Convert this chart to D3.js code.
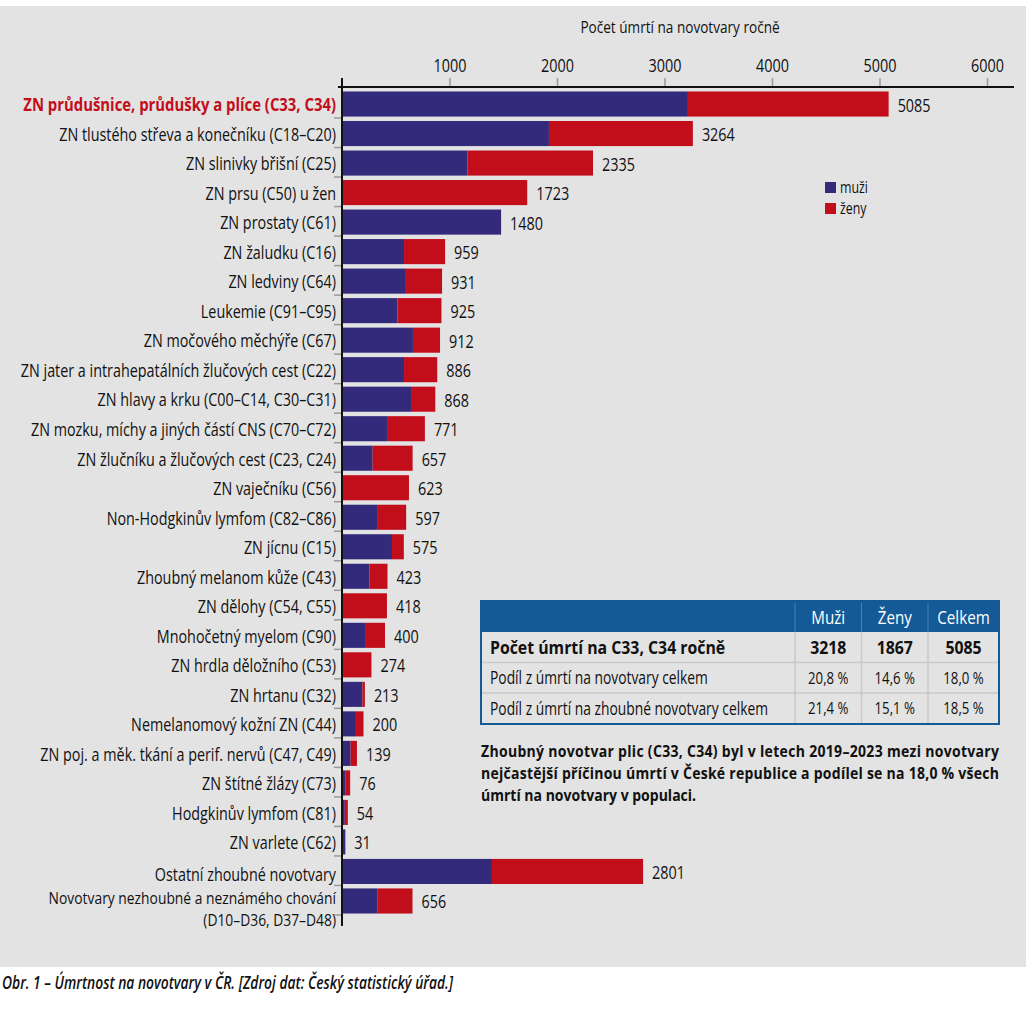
<!DOCTYPE html>
<html>
<head>
<meta charset="utf-8">
<script src="https://cdn.jsdelivr.net/npm/d3@7"></script>
<style>
  body { margin: 0; background: #fff; }
  svg text { font-family: "Open Sans", "Noto Sans", sans-serif; }
</style>
</head>
<body>
<div id="viz-container"></div>
<script>
// Data
const categories = [
    "ZN průdušnice, průdušky a plíce (C33, C34)",
    "ZN tlustého střeva a konečníku (C18–C20)",
    "ZN slinivky břišní (C25)",
    "ZN prsu (C50) u žen",
    "ZN prostaty (C61)",
    "ZN žaludku (C16)",
    "ZN ledviny (C64)",
    "Leukemie (C91–C95)",
    "ZN močového měchýře (C67)",
    "ZN jater a intrahepatálních žlučových cest (C22)",
    "ZN hlavy a krku (C00–C14, C30–C31)",
    "ZN mozku, míchy a jiných částí CNS (C70–C72)",
    "ZN žlučníku a žlučových cest (C23, C24)",
    "ZN vaječníku (C56)",
    "Non-Hodgkinův lymfom (C82–C86)",
    "ZN jícnu (C15)",
    "Zhoubný melanom kůže (C43)",
    "ZN dělohy (C54, C55)",
    "Mnohočetný myelom (C90)",
    "ZN hrdla děložního (C53)",
    "ZN hrtanu (C32)",
    "Nemelanomový kožní ZN (C44)",
    "ZN poj. a měk. tkání a perif. nervů (C47, C49)",
    "ZN štítné žlázy (C73)",
    "Hodgkinův lymfom (C81)",
    "ZN varlete (C62)",
    "Ostatní zhoubné novotvary",
    "Novotvary nezhoubné a neznámého chování|(D10–D36, D37–D48)"
];
const totals = [5085, 3264, 2335, 1723, 1480, 959, 931, 925, 912, 886, 868, 771, 657, 623,
    597, 575, 423, 418, 400, 274, 213, 200, 139, 76, 54, 31, 2801, 656];
const men = [3218, 1925, 1167, 0, 1480, 577, 586, 516, 660, 577, 642, 419, 285, 0,
    326, 465, 254, 0, 214, 0, 190, 121, 80, 30, 26, 31, 1395, 332];
const xTicks = [1000, 2000, 3000, 4000, 5000, 6000];
const seriesNames = ["muži", "ženy"];

const tableHead = ["", "Muži", "Ženy", "Celkem"];
const tableRows = [
    ["Počet úmrtí na C33, C34 ročně", "3218", "1867", "5085"],
    ["Podíl z úmrtí na novotvary celkem", "20,8 %", "14,6 %", "18,0 %"],
    ["Podíl z úmrtí na zhoubné novotvary celkem", "21,4 %", "15,1 %", "18,5 %"]
];
const noteLines = [
    "Zhoubný novotvar plic (C33, C34) byl v letech 2019–2023 mezi novotvary",
    "nejčastější příčinou úmrtí v České republice a podílel se na 18,0 % všech",
    "úmrtí na novotvary v populaci."
];
const caption = "Obr. 1 – Úmrtnost na novotvary v ČR. [Zdroj dat: Český statistický úřad.]";

const C_MEN = "#332a7c", C_WOMEN = "#c20e1b", C_BG = "#e3e3e3";
const SQ = 0.8;   // horizontal squeeze to imitate the condensed face

const W = 1028, H = 1019;
const svg = d3.select("#viz-container").append("svg")
    .attr("width", W).attr("height", H);

// condensed text helper
function txt(parent, x, y, str, o = {}) {
    return parent.append("text")
        .attr("transform", `translate(${x},${y}) scale(${o.sq || SQ},1)`)
        .attr("dy", o.dy == null ? "0.36em" : o.dy)
        .attr("text-anchor", o.anchor || "start")
        .attr("font-size", (o.size || 17.5) + "px")
        .attr("font-weight", o.weight || "normal")
        .attr("font-style", o.style || "normal")
        .attr("fill", o.fill || "#111")
        .text(str);
}

// gray panel
svg.append("rect").attr("x", 0).attr("y", 6).attr("width", 1026).attr("height", 961)
    .attr("fill", C_BG);

const x = d3.scaleLinear().domain([0, 6000]).range([342, 987]);
const y = d3.scaleBand().domain(d3.range(categories.length)).range([89, 914])
    .paddingInner(0.15).paddingOuter(0.05);

// Bars
const rows = svg.append("g").selectAll("g").data(categories).enter().append("g");
rows.append("rect")
    .attr("x", x(0))
    .attr("y", (d, i) => y(i) + 1)
    .attr("width", (d, i) => x(men[i]) - x(0))
    .attr("height", y.bandwidth())
    .attr("fill", C_MEN);
rows.append("rect")
    .attr("x", (d, i) => x(men[i]))
    .attr("y", (d, i) => y(i) + 1)
    .attr("width", (d, i) => x(totals[i]) - x(men[i]))
    .attr("height", y.bandwidth())
    .attr("fill", C_WOMEN);

rows.each(function (d, i) {
    const g = d3.select(this);
    const cy = y(i) + 1 + y.bandwidth() / 2;
    // value label
    txt(g, x(totals[i]) + 9, cy + 1, totals[i], { size: 18 });
    // category label
    const parts = d.split("|");
    if (parts.length === 1) {
        txt(g, 336, cy + (i === categories.length - 2 ? 3.5 : 1), d, {
            anchor: "end",
            fill: i === 0 ? C_WOMEN : "#111",
            weight: i === 0 ? "bold" : "normal",
            sq: i === 0 ? 0.85 : 0.82
        });
    } else {
        txt(g, 336, cy - 3, parts[0], { anchor: "end", size: 16.5, sq: 0.84 });
        txt(g, 336, cy + 19, parts[1], { anchor: "end", size: 16.5, sq: 0.84 });
    }
});

// Y-axis ticks at band boundaries
const bounds = d3.range(1, categories.length + 1).map(i => 89 + i * y.step() - 0.5);
svg.append("g").selectAll("line").data(bounds).enter().append("line")
    .attr("x1", 334).attr("x2", 342)
    .attr("y1", d => d).attr("y2", d => d)
    .attr("stroke", "#999").attr("stroke-width", 1.5);
svg.append("line").attr("x1", 342).attr("x2", 342).attr("y1", 78).attr("y2", 926)
    .attr("stroke", "#111").attr("stroke-width", 2);

// Top axis
const ax = svg.append("g").attr("transform", "translate(0,87)")
    .call(d3.axisTop(x).tickValues(xTicks).tickSize(9).tickFormat(d3.format("d")).tickSizeOuter(0));
ax.select(".domain").remove();
ax.selectAll(".tick line").attr("stroke", "#999").attr("stroke-width", 1.5);
ax.selectAll(".tick text").remove();
ax.selectAll(".tick").each(function (d) {
    txt(d3.select(this), 0, -21, d3.format("d")(d), { anchor: "middle", size: 18 });
});
svg.append("line").attr("x1", 338).attr("x2", 1014).attr("y1", 87).attr("y2", 87)
    .attr("stroke", "#111").attr("stroke-width", 2);

txt(svg, 680, 27, "Počet úmrtí na novotvary ročně", { anchor: "middle", size: 17 });

// Legend
const lg = svg.append("g").attr("transform", "translate(825,182)");
lg.selectAll("rect").data(seriesNames).enter().append("rect")
    .attr("x", 0).attr("y", (d, i) => i * 21)
    .attr("width", 11).attr("height", 11)
    .attr("fill", (d, i) => i === 0 ? C_MEN : C_WOMEN);
seriesNames.forEach((s, i) => txt(lg, 15, i * 21 + 5.5, s, { size: 15.5 }));

// Table
const colX = [481, 795, 861.5, 928, 999];
const rowY = [601, 632, 662.5, 693, 724];
const tb = svg.append("g");
tb.append("rect").attr("x", colX[0]).attr("y", rowY[0])
    .attr("width", colX[4] - colX[0]).attr("height", rowY[1] - rowY[0])
    .attr("fill", "#135a96");
tb.selectAll("line.h").data(rowY.slice(2, 4)).enter().append("line")
    .attr("x1", colX[0]).attr("x2", colX[4]).attr("y1", d => d).attr("y2", d => d)
    .attr("stroke", "#c9c9c9").attr("stroke-width", 1.5);
tb.selectAll("line.vb").data(colX.slice(1, 4)).enter().append("line")
    .attr("x1", d => d).attr("x2", d => d).attr("y1", rowY[1]).attr("y2", rowY[4])
    .attr("stroke", "#c9c9c9").attr("stroke-width", 1.5);
tb.selectAll("line.vh").data(colX.slice(1, 4)).enter().append("line")
    .attr("x1", d => d).attr("x2", d => d).attr("y1", rowY[0] + 2).attr("y2", rowY[1])
    .attr("stroke", "#4a82b4").attr("stroke-width", 1);
tb.append("rect").attr("x", colX[0]).attr("y", rowY[0])
    .attr("width", colX[4] - colX[0]).attr("height", rowY[4] - rowY[0])
    .attr("fill", "none").attr("stroke", "#135a96").attr("stroke-width", 2);

tableHead.forEach((h, j) => {
    if (!h) return;
    txt(tb, (colX[j] + colX[j + 1]) / 2, (rowY[0] + rowY[1]) / 2 + 1, h,
        { anchor: "middle", fill: "#fff", size: 19 });
});
tableRows.forEach((r, i) => {
    r.forEach((v, j) => {
        txt(tb, j === 0 ? colX[0] + 9 : (colX[j] + colX[j + 1]) / 2,
            (rowY[i + 1] + rowY[i + 2]) / 2, v, {
                anchor: j === 0 ? "start" : "middle",
                weight: i === 0 ? "bold" : "normal",
                size: i === 0 ? 18 : (j === 0 ? 17.3 : 16.5),
                sq: i === 0 ? 0.88 : SQ
            });
    });
});

// Note text (justified lines)
noteLines.forEach((l, i) => {
    const t = txt(svg, 481, 751 + i * 22, l, { weight: "bold", size: 16.5, sq: 0.85 });
    if (i < noteLines.length - 1) t.attr("textLength", 518 / 0.85).attr("lengthAdjust", "spacing");
});

// Caption
txt(svg, 2, 983, caption, { size: 17.3, style: "italic", weight: "600" });
</script>
</body>
</html>
